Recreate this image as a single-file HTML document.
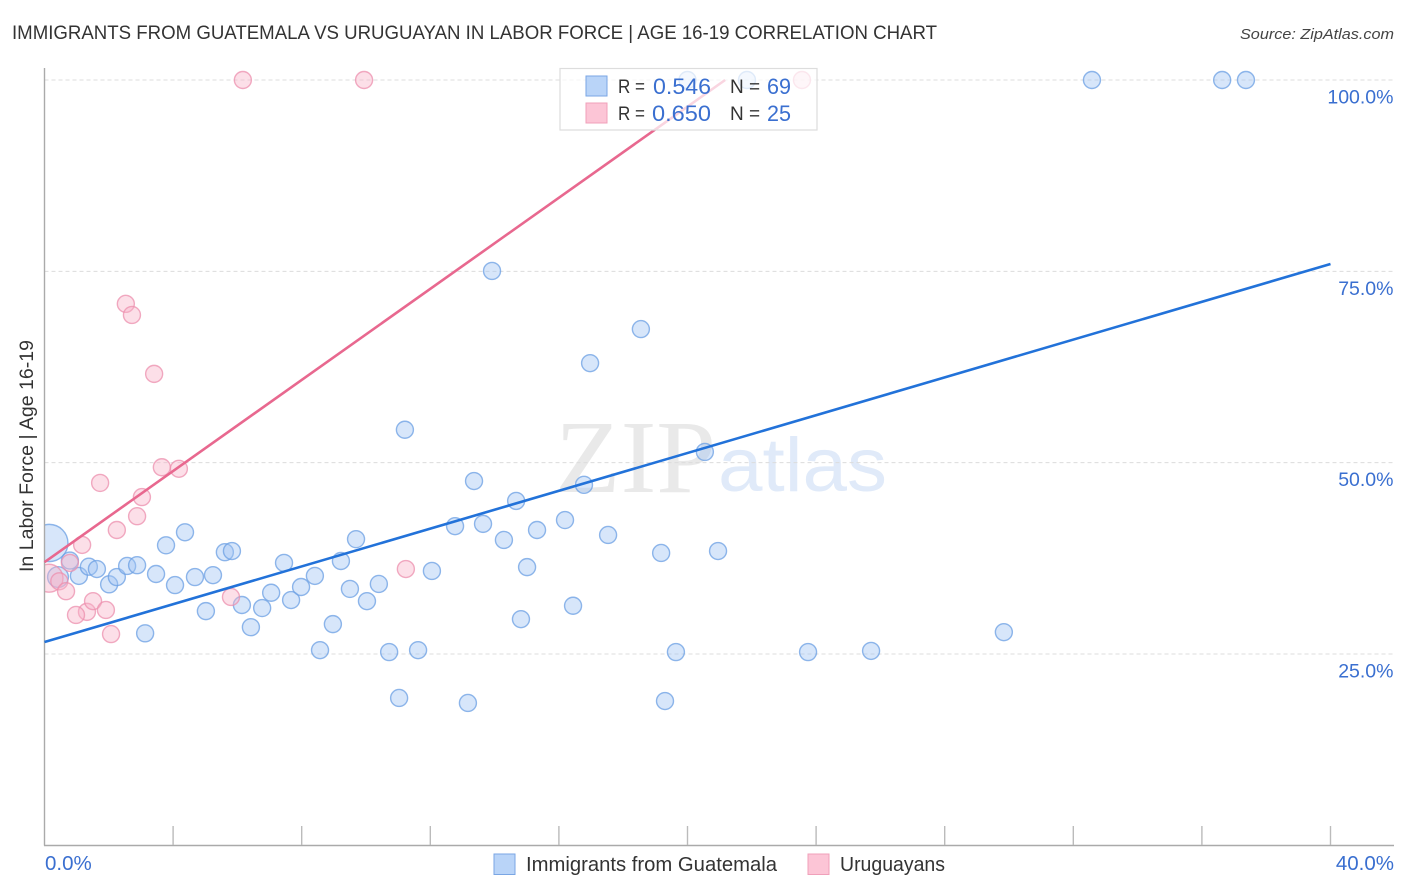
<!DOCTYPE html>
<html lang="en">
<head>
<meta charset="utf-8">
<title>Immigrants from Guatemala vs Uruguayan in Labor Force | Age 16-19 Correlation Chart</title>
<style>
html,body{margin:0;padding:0;background:#fff;width:1406px;height:892px;overflow:hidden}
#stage{position:relative;width:1406px;height:892px;overflow:hidden}
svg{display:block;font-family:"Liberation Sans",sans-serif}
.layer{position:absolute;left:0;top:0}
#plot-window{position:absolute;left:45px;top:60px;width:1350px;height:790px;overflow:hidden}
</style>
</head>
<body>
<div id="stage">
<svg class="layer" xmlns="http://www.w3.org/2000/svg" width="1406" height="892" viewBox="0 0 1406 892">
  <text x="12" y="39" font-size="19.5" fill="#333" textLength="925" lengthAdjust="spacingAndGlyphs">IMMIGRANTS FROM GUATEMALA VS URUGUAYAN IN LABOR FORCE | AGE 16-19 CORRELATION CHART</text>
  <text x="1394" y="39" font-size="15" font-style="italic" fill="#444" text-anchor="end" textLength="154" lengthAdjust="spacingAndGlyphs">Source: ZipAtlas.com</text>
  <g>
    <text x="555" y="492" font-family="'Liberation Serif',serif" font-size="104" fill="#e9e9e9" textLength="161" lengthAdjust="spacingAndGlyphs">ZIP</text>
    <text x="718" y="491" font-size="76" fill="#e0eaf9" textLength="169" lengthAdjust="spacingAndGlyphs">atlas</text>
  </g>
  <g id="grid"></g>
</svg>
<div id="plot-window">
  <svg xmlns="http://www.w3.org/2000/svg" width="1350" height="790" viewBox="45 60 1350 790">
    <g id="marks"></g>
  </svg>
</div>
<svg class="layer" xmlns="http://www.w3.org/2000/svg" width="1406" height="892" viewBox="0 0 1406 892">
  <g id="axes"></g>
  <g id="lines"></g>
  <g>
    <rect x="560" y="68.5" width="257" height="61.5" fill="#fff" fill-opacity="0.72" stroke="#ddd" stroke-width="1.2"></rect>
    <rect x="586" y="76" width="21" height="20" fill="#b9d4f8" stroke="#7aa6e4" stroke-width="1"></rect>
    <rect x="586" y="103" width="21" height="20" fill="#fcc5d6" stroke="#f0a0ba" stroke-width="1"></rect>
    <g font-size="20">
      <text x="618" y="93" fill="#333" font-size="19" textLength="27" lengthAdjust="spacingAndGlyphs">R =</text>
      <text x="653" y="94" fill="#3a6fd0" font-size="22" textLength="58" lengthAdjust="spacingAndGlyphs">0.546</text>
      <text x="730" y="93" fill="#333" font-size="19">N =</text>
      <text x="767" y="94" fill="#3a6fd0" font-size="22" textLength="24" lengthAdjust="spacingAndGlyphs">69</text>
      <text x="618" y="120" fill="#333" font-size="19" textLength="27" lengthAdjust="spacingAndGlyphs">R =</text>
      <text x="652" y="121" fill="#3a6fd0" font-size="22" textLength="59" lengthAdjust="spacingAndGlyphs">0.650</text>
      <text x="730" y="120" fill="#333" font-size="19">N =</text>
      <text x="767" y="121" fill="#3a6fd0" font-size="22" textLength="24" lengthAdjust="spacingAndGlyphs">25</text>
    </g>
  </g>
  <text transform="translate(33,572) rotate(-90)" font-size="19.5" fill="#333" textLength="232" lengthAdjust="spacingAndGlyphs">In Labor Force | Age 16-19</text>
  <g>
    <rect x="494" y="854" width="21" height="20.5" fill="#b9d4f8" stroke="#7aa6e4" stroke-width="1"></rect>
    <text x="526" y="871" font-size="20" fill="#333" textLength="251" lengthAdjust="spacingAndGlyphs">Immigrants from Guatemala</text>
    <rect x="808" y="854" width="21" height="20.5" fill="#fcc5d6" stroke="#f0a0ba" stroke-width="1"></rect>
    <text x="840" y="871" font-size="20" fill="#333" textLength="105" lengthAdjust="spacingAndGlyphs">Uruguayans</text>
  </g>
</svg>
</div>
<script>
// Chart data
const xTickValues = [0, 4, 8, 12, 16, 20, 24, 28, 32, 36, 40];
const yGridValues = [25, 50, 75, 100];
const yTickLabels = ["25.0%", "50.0%", "75.0%", "100.0%"];
const xEndLabels = ["0.0%", "40.0%"];
const xEndValues = [0, 40];

const blueX = [0.15,0.79,0.42,1.07,1.38,1.63,2.01,2.25,2.57,2.88,3.13,3.47,3.78,4.06,4.37,4.68,5.02,5.24,5.61,5.83,6.14,6.42,6.77,7.05,7.45,7.67,7.98,8.41,8.57,8.97,9.22,9.5,9.69,10.03,10.4,10.72,11.03,11.21,11.62,12.05,12.77,13.17,13.36,13.64,13.92,14.29,14.67,14.82,15.01,15.32,16.19,16.44,16.78,16.97,17.53,18.55,19.18,19.3,19.64,20.54,20.95,23.75,25.71,29.84,32.58,36.63,37.37,20.0,21.85];
const blueY = [39.5,37.2,35.05,35.2,36.4,36.1,34.1,35.05,36.5,36.6,27.7,35.45,39.2,34.0,40.9,35.05,30.6,35.3,38.3,38.45,31.4,28.5,31.0,33.0,36.9,32.05,33.75,35.2,25.5,28.9,37.15,33.5,40.0,31.9,34.15,25.25,19.25,54.3,25.5,35.85,41.7,18.6,47.6,42.0,75.05,39.9,45.0,29.55,36.35,41.2,42.5,31.3,47.1,63.0,40.55,67.45,38.2,18.85,25.25,51.4,38.45,25.25,25.4,27.85,100,100,100,100,100];
const blueWeight = [4.8,1,1.5];

const pinkX = [0.14,0.46,0.79,0.67,1.17,1.32,1.51,1.73,1.91,0.98,2.07,2.25,2.53,2.72,2.88,3.03,3.41,3.65,4.18,5.8,6.17,9.94,11.24,23.56];
const pinkY = [34.9,34.5,36.9,33.2,39.25,30.5,31.9,47.35,30.75,30.1,27.6,41.2,70.75,69.3,43.0,45.5,61.6,49.4,49.2,32.45,100,100,36.1,100];
const pinkWeight = [2.7];

const blueTrendX = [0, 40];
const blueTrendY = [26.56, 75.96];
const pinkTrendX = [0, 21.17];
const pinkTrendY = [37.0, 100];

// Axis functions
function xScale(v) { return 44.5 + v * 32.15; }
function yScale(v) { return 845.3 - v * 7.653; }
const baseRadius = 8.5;
function rScale(w) { return baseRadius * Math.sqrt(w); }

const NS = 'http://www.w3.org/2000/svg';
function mk(tag, parent, props) {
  const el = document.createElementNS(NS, tag);
  for (const k in props) el.setAttribute(k, props[k]);
  parent.appendChild(el);
  return el;
}

const grid = document.getElementById('grid');
const axes = document.getElementById('axes');
const marks = document.getElementById('marks');
const lines = document.getElementById('lines');

yGridValues.forEach(function (v, i) {
  const gl = mk('line', grid, {x1: 44.5, x2: 1394, y1: yScale(v), y2: yScale(v), stroke: '#dcdcdc', 'stroke-width': 1, 'stroke-dasharray': '4 3'});
  
  
  const t = mk('text', axes, {x: 1393.5, y: yScale(v) + 23.5, 'text-anchor': 'end', 'font-size': 19.5, fill: '#3a6fd0'});
  t.textContent = yTickLabels[i];
  
  
});

const yAxis = mk('line', axes, {x1: 44.5, x2: 44.5, y1: 68, y2: 845.5, stroke: '#aaa', 'stroke-width': 1.4});


const xAxis = mk('line', axes, {x1: 44, x2: 1394, y1: 845.5, y2: 845.5, stroke: '#aaa', 'stroke-width': 1.4});



xTickValues.slice(1).forEach(function (v) {
  const tk = mk('line', axes, {x1: xScale(v), x2: xScale(v), y1: 826, y2: 845, stroke: '#bbb', 'stroke-width': 1.4});
  
  
});

xEndLabels.forEach(function (label, i) {
  const t = mk('text', axes, {x: i === 0 ? xScale(xEndValues[i]) + 0.5 : 1394, y: 870, 'text-anchor': i === 0 ? 'start' : 'end', 'font-size': 20.5, fill: '#3a6fd0'});
  t.textContent = label;
  
  
});

function drawPoints(xs, ys, weights, fill, stroke, name) {
  xs.forEach(function (x, i) {
    const w = weights[i] === undefined ? 1 : weights[i];
    const c = mk('circle', marks, {cx: xScale(x), cy: yScale(ys[i]), r: rScale(w), fill: fill, 'fill-opacity': 0.42, stroke: stroke, 'stroke-opacity': 0.75, 'stroke-width': 1.4});
    
    
  });
}
drawPoints(blueX, blueY, blueWeight, '#9fc3f3', '#6b9fe3', 'guatemala-point');
drawPoints(pinkX, pinkY, pinkWeight, '#f8b3c8', '#ec8fad', 'uruguayan-point');

function drawTrend(xs, ys, color, name) {
  const l = mk('line', lines, {x1: xScale(xs[0]), y1: yScale(ys[0]), x2: xScale(xs[1]), y2: yScale(ys[1]), stroke: color, 'stroke-width': 2.6});
  
  
}
drawTrend(blueTrendX, blueTrendY, '#2272d9', 'guatemala-trend-line');
drawTrend(pinkTrendX, pinkTrendY, '#e8688f', 'uruguayan-trend-line');
</script>
</body>
</html>
